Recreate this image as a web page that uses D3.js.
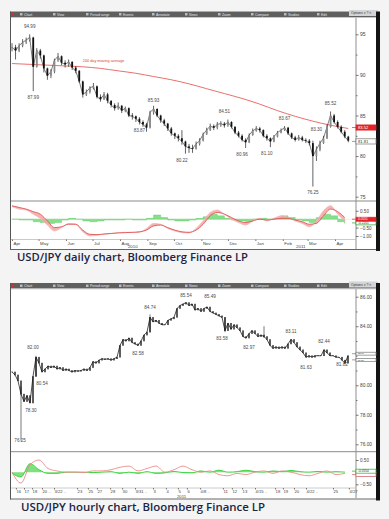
<!DOCTYPE html>
<html>
<head>
<meta charset="utf-8">
<script src="https://cdn.jsdelivr.net/npm/d3@7"></script>
<style>
body { margin: 0; background: #f4f4f4; }
svg { display: block; }
</style>
</head>
<body>
<script>
// ---- daily chart data (one bar every 4 calendar days from 1 Apr 2010) ----
const dailyStart = new Date(2010, 3, 1);
const dailyStepDays = 4;
const dailyClose = [
  93.4, 93.0, 93.6, 94.0, 94.3, 94.6, 91.0, 93.0, 92.4, 90.8,
  89.9, 90.4, 91.8, 92.3, 91.5, 91.3, 91.6, 90.9, 90.5, 89.2,
  87.6, 87.9, 88.4, 88.6, 87.3, 87.0, 87.6, 86.8, 86.3, 85.9,
  86.2, 85.6, 85.9, 85.0, 84.9, 84.6, 84.2, 83.9, 83.5, 85.4,
  85.8, 85.0, 84.4, 84.0, 83.4, 82.8, 82.5, 82.2, 81.8, 81.2,
  81.0, 80.9, 81.5, 81.9, 82.7, 83.2, 83.7, 83.5, 83.9, 84.0,
  83.8, 84.2, 83.6, 82.9, 82.5, 82.0, 81.7, 82.6, 83.1, 83.4,
  83.2, 82.5, 82.2, 81.8, 82.4, 82.9, 83.2, 83.5, 82.8, 82.3,
  82.0, 82.3, 82.0, 81.9, 81.6, 80.0, 80.8, 81.6, 82.2, 83.6,
  85.0, 84.2, 83.6, 83.0, 82.4, 81.9
];
const dailyHigh = [
  93.9, 93.7, 93.9, 94.4, 94.6, 95.0, 94.7, 93.3, 93.2, 92.5,
  90.9, 90.7, 92.0, 92.7, 92.4, 91.8, 91.9, 91.7, 91.1, 90.6,
  89.3, 88.2, 88.6, 89.0, 88.7, 87.6, 87.9, 87.8, 86.9, 86.5,
  86.6, 86.3, 86.1, 86.0, 85.3, 85.0, 84.8, 84.4, 84.1, 85.6,
  86.2, 85.9, 85.1, 84.6, 84.1, 83.6, 82.9, 82.7, 83.2, 81.9,
  81.5, 81.4, 81.8, 82.2, 82.9, 83.5, 84.0, 83.9, 84.2, 84.3,
  84.2, 84.5, 84.3, 83.7, 83.1, 82.7, 82.2, 82.8, 83.4, 83.7,
  83.6, 83.3, 82.7, 82.3, 82.6, 83.1, 83.4, 83.7, 83.6, 82.9,
  82.5, 82.6, 82.5, 82.2, 82.1, 81.9, 81.2, 81.9, 82.5, 83.9,
  85.5, 85.2, 84.4, 83.8, 83.2, 82.5
];
const dailyLow = [
  92.9, 91.9, 92.8, 93.4, 93.8, 94.1, 88.0, 90.9, 92.0, 90.3,
  89.4, 89.6, 90.2, 91.6, 91.2, 90.9, 91.0, 90.6, 90.2, 89.0,
  87.2, 87.4, 87.7, 88.2, 87.1, 86.7, 86.9, 86.5, 86.0, 85.6,
  85.7, 85.3, 85.4, 84.8, 84.5, 84.2, 83.9, 83.6, 83.0, 83.4,
  85.1, 84.8, 84.1, 83.7, 83.1, 82.5, 82.1, 81.8, 81.4, 80.3,
  80.4, 80.4, 80.8, 81.3, 81.8, 82.6, 83.1, 83.2, 83.3, 83.6,
  83.5, 83.6, 83.4, 82.7, 82.3, 81.8, 81.0, 81.6, 82.5, 83.0,
  82.9, 82.3, 81.9, 81.1, 81.7, 82.3, 82.8, 83.1, 82.6, 82.1,
  81.8, 81.9, 81.8, 81.6, 81.3, 76.25, 79.4, 80.6, 81.5, 82.1,
  83.5, 84.0, 83.4, 82.8, 82.2, 81.7
];
// 200 day moving average, one value every 20 days
const maStepDays = 20;
const dailyMA = [91.4, 91.3, 91.2, 91.1, 91.0, 90.8, 90.5, 90.2, 89.8, 89.4,
                 88.9, 88.3, 87.7, 87.1, 86.4, 85.6, 84.9, 84.3, 83.8, 83.4];
// lower study, one value every 8 days
const indStepDays = 8;
const dailySignal = [0.8, 0.7, 0.6, 0.45, 0.3, -0.1, -0.5, -0.45, -0.3, -0.3,
  -0.65, -0.9, -0.92, -0.88, -0.85, -0.82, -0.8, -0.78, -0.75, -0.65,
  -0.4, -0.35, -0.5, -0.65, -0.75, -0.78, -0.65, -0.3, 0.2, 0.4,
  0.3, 0.1, -0.1, -0.2, -0.1, 0.0, -0.05, 0.0, 0.05, 0.05,
  -0.05, -0.15, -0.3, -0.25, 0.2, 0.6, 0.45, 0.1];
const dailyMacd = [0.75, 0.6, 0.55, 0.3, 0.05, -0.35, -0.7, -0.5, -0.25, -0.3,
  -0.75, -1.0, -0.95, -0.9, -0.85, -0.8, -0.78, -0.8, -0.78, -0.55,
  -0.25, -0.3, -0.55, -0.7, -0.8, -0.82, -0.55, -0.1, 0.4, 0.55,
  0.3, 0.0, -0.2, -0.35, -0.1, 0.05, -0.1, 0.05, 0.2, 0.1,
  -0.1, -0.25, -0.45, -0.1, 0.5, 0.8, 0.3, -0.1];
const dailyHist = [0.0, -0.05, -0.05, -0.15, -0.2, -0.25, -0.2, -0.05, 0.05, 0.0,
  -0.1, -0.15, -0.1, -0.05, -0.05, -0.05, 0.0, -0.05, -0.05, 0.05,
  0.25, 0.1, -0.05, -0.1, -0.1, -0.05, 0.05, 0.15, 0.3, 0.2,
  0.05, -0.05, -0.1, -0.15, 0.0, 0.05, 0.0, 0.05, 0.2, 0.1,
  -0.05, -0.1, -0.2, 0.1, 0.3, 0.2, -0.15, -0.25];
const dailyYTicks = [75, 80, 85, 90, 95];
const dailyYMinor = [77.5, 82.5, 87.5, 92.5];
const dailyIndTicks = [0.5, -0.5, -1];
const yearLabels = ["2010", "2011"];
const yearDates = [new Date(2010, 7, 10), new Date(2011, 1, 16)];
const dailyNotes = ["94.99", "87.99", "85.93", "83.87", "80.22", "84.51", "80.96", "81.10", "83.67", "83.30", "85.52", "76.25"];
const dailyNoteIdx = [5, 6, 40, 36, 48, 60, 65, 72, 77, 86, 90, 85];
const dailyNoteSide = ["above", "below", "above", "below", "below", "above", "below", "below", "above", "at", "above", "below"];

// ---- hourly chart data (sessions from 16 Mar 2011 to 27 Apr 2011) ----
const hourlyClose = [
  80.9, 80.7, 80.3, 79.4, 78.9, 79.3, 78.8, 80.6, 81.9, 81.5,
  80.9, 81.1, 81.3, 81.2, 81.3, 81.1, 81.2, 81.0, 81.1, 81.0,
  80.9, 81.0, 80.95, 81.0, 81.1, 81.0, 81.2, 81.6, 81.5, 81.7,
  81.8, 81.75, 81.8, 81.7, 81.8, 81.9, 82.7, 83.1, 83.0, 83.2,
  82.9, 82.8, 82.7, 83.0, 83.4, 83.6, 84.6, 84.3, 84.4, 84.2,
  84.1, 84.1, 84.4, 84.5, 84.6, 85.2, 85.4, 85.5, 85.6, 85.4,
  85.5, 85.1, 85.2, 85.0, 85.2, 85.3, 85.0, 84.9, 84.8, 84.7,
  84.6, 83.7, 84.2, 83.8, 84.1, 83.9, 83.7, 83.3, 83.2, 83.5,
  83.7, 83.5, 83.3, 83.4, 83.3, 83.1, 82.7, 82.5, 82.6, 82.5,
  82.6, 82.5, 82.8, 83.1, 82.9, 82.6, 82.4, 82.2, 81.9, 82.0,
  81.9, 82.0, 82.0, 82.0, 82.4, 82.2, 82.0, 82.0, 81.9, 81.9,
  81.7, 81.5, 82.0
];
const wickIdx = [3, 8, 46, 71, 84, 111];
const wickLow = [76.25, 80.6, 83.6, 83.6, 83.2, 81.45];
const wickHigh = [79.9, 82.0, 84.8, 84.6, 84.0, 81.7];
const hourlyIndStep = 3;
const hourlySignal = [0.0, -0.45, 0.3, 0.5, 0.15, 0.05, 0.0, 0.0, -0.02, 0.05,
  0.05, 0.1, 0.2, 0.25, 0.05, 0.15, 0.25, 0.0, 0.1, 0.25,
  0.1, 0.0, 0.05, -0.1, -0.15, -0.05, -0.1, 0.0, 0.05, -0.05,
  0.05, 0.0, -0.1, -0.15, -0.05, 0.05, -0.1, -0.05];
const hourlyGreen = [-0.05, -0.2, 0.35, 0.1, -0.05, -0.05, 0.0, 0.0, 0.0, -0.02,
  0.0, 0.02, -0.05, 0.0, -0.05, 0.02, -0.05, -0.03, 0.03, -0.02,
  -0.03, 0.05, 0.0, 0.08, 0.0, 0.02, 0.08, 0.02, 0.0, 0.05,
  0.02, 0.07, 0.02, 0.0, 0.03, 0.0, 0.02, 0.0];
const hourlyYTicks = [76, 78, 80, 84, 86];
const hourlyYMinor = [77, 79, 81, 82, 83, 85];
const hourlyIndTicks = [0.5, -0.5];
const hourlyTickLabels = ["16", "17", "18", "20 ..", "3/22 ..", "23", "25", "27", "28", "30", "3/31 ..", "3", "4", "5", "6",
  "4/8 ..", "11", "12", "13", "4/15 ..", "18", "19", "20", "4/22 ..", "25", "4/27"];
const hourlyTickIdx = [1.3, 4, 6.7, 10, 14, 21.7, 25.3, 28.3, 32.7, 36.7, 41, 47, 51.3, 55.3, 58.3,
  62.7, 70.3, 73.3, 76.7, 81, 87.7, 90.3, 94, 98, 107, 112.3];
const hourlyNotes = ["76.25", "78.30", "82.00", "80.54", "82.58", "84.74", "85.54", "85.49", "83.58", "82.97", "83.11", "81.63", "82.44", "81.82"];
const hourlyNoteIdx = [2.7, 6.3, 7, 10, 42, 46, 58, 66, 70, 79, 93, 98, 104, 110];
const hourlyNoteSide = ["at", "at", "above", "below", "below", "above", "above", "above", "below", "below", "above", "below", "above", "below"];

const toolbarItems = ["Chart", "View", "Period range", "Events", "Annotate", "News", "Zoom", "Compare", "Studies", "Edit"];

// ---- page ----
const W = 389, H = 519;
const svg = d3.select("body").append("svg").attr("width", W).attr("height", H);
svg.append("rect").attr("width", W).attr("height", H).attr("fill", "#f4f4f4");
const defs = svg.append("defs");

const tinyFont = "Liberation Sans, Arial, sans-serif";
const plotLeft = 11, axisX = 356;

function drawFrame(top, bottom, sep1, sep2) {
  const g = svg.append("g");
  g.append("rect").attr("x", 10).attr("y", top).attr("width", 367).attr("height", bottom - top).attr("fill", "#fff");
  g.append("rect").attr("x", 10).attr("y", top).attr("width", 367).attr("height", 5.5).attr("fill", "#5f5f5f");
  g.append("rect").attr("x", 10).attr("y", top + 5.5).attr("width", 367).attr("height", 0.8).attr("fill", "#bcbcbc");
  toolbarItems.forEach((t, i) => {
    const x = 24 + i * 33;
    g.append("rect").attr("x", x - 4).attr("y", top + 1.5).attr("width", 2.5).attr("height", 2.5).attr("fill", "#bbb");
    g.append("text").attr("x", x).attr("y", top + 4).attr("font-size", 3.4).attr("font-family", tinyFont)
      .attr("fill", "#e6e6e6").text(t);
  });
  g.append("rect").attr("x", 11).attr("y", top + 1).attr("width", 3).attr("height", 3).attr("fill", "#c33");
  g.append("rect").attr("x", 349).attr("y", top - 1.5).attr("width", 29).attr("height", 6).attr("fill", "#d4d4d4");
  g.append("text").attr("x", 351).attr("y", top + 2.5).attr("font-size", 3.4).attr("font-family", tinyFont)
    .attr("fill", "#333").text("Options \u25BE  ?  \u2715");
  // borders
  g.append("line").attr("x1", 10.5).attr("x2", 10.5).attr("y1", top).attr("y2", bottom).attr("stroke", "#555");
  g.append("line").attr("x1", 10).attr("x2", 377).attr("y1", bottom - 0.5).attr("y2", bottom - 0.5).attr("stroke", "#666");
  g.append("rect").attr("x", 376).attr("y", top).attr("width", 4).attr("height", bottom - top + 1).attr("fill", "#141414");
  // right axis rail and panel separators
  g.append("line").attr("x1", axisX).attr("x2", axisX).attr("y1", top + 6).attr("y2", bottom - 1)
    .attr("stroke", "#b5b5b5").attr("stroke-width", 1.5);
  [sep1, sep2].forEach((y, i) => {
    g.append("line").attr("x1", plotLeft).attr("x2", i === 0 ? 376 : axisX).attr("y1", y).attr("y2", y)
      .attr("stroke", i === 0 ? "#8a8a8a" : "#bdbdbd").attr("stroke-width", i === 0 ? 1 : 0.8);
  });
  return g;
}

function styleAxis(g, size) {
  g.select(".domain").remove();
  g.selectAll("line").attr("stroke", "#555").attr("stroke-width", 0.8);
  g.selectAll("text").attr("font-size", size).attr("font-family", tinyFont).attr("fill", "#444");
}

function valueBox(y, text, fill, stroke, color, h) {
  h = h || 5.2;
  svg.append("line").attr("x1", axisX - 4).attr("x2", axisX).attr("y1", y).attr("y2", y).attr("stroke", stroke).attr("stroke-width", 0.7);
  svg.append("rect").attr("x", axisX).attr("y", y - h / 2).attr("width", 20).attr("height", h)
    .attr("fill", fill).attr("stroke", stroke).attr("stroke-width", 0.7);
  if (text) {
    svg.append("text").attr("x", axisX + 2).attr("y", y).attr("dy", "0.35em").attr("font-size", h * 0.8)
      .attr("font-family", tinyFont).attr("fill", color).text(text);
  }
}

function notes(labels, xs, ys, sides) {
  labels.forEach((t, i) => {
    const off = { above: -8, below: 6, at: 0 }[sides[i]];
    svg.append("text").attr("x", xs[i]).attr("y", ys[i] + off).attr("dy", "0.35em")
      .attr("text-anchor", "middle").attr("font-size", 4.6).attr("font-family", tinyFont)
      .attr("fill", "#4a4a4a").text(t);
  });
}

// ================= DAILY =================
const dTop = 11.5, dBottom = 250, dSep = 201, dSep2 = 239.5;
drawFrame(dTop, dBottom, dSep, dSep2);

const dx = d3.scaleTime().domain([new Date(2010, 3, 1), new Date(2011, 3, 1)]).range([12, 335]);
const dy = d3.scaleLinear().domain([75, 95]).range([196.7, 34.3]);
const diy = d3.scaleLinear().domain([-1, 0.5]).range([236, 210.8]);
const dDate = i => d3.timeDay.offset(dailyStart, i * dailyStepDays);

defs.append("clipPath").attr("id", "dclip").append("rect")
  .attr("x", plotLeft).attr("y", 18).attr("width", axisX - plotLeft - 1).attr("height", dSep - 18);

// 200 day MA
const maLine = d3.line().x((d, i) => dx(d3.timeDay.offset(dailyStart, i * maStepDays))).y(d => dy(d)).curve(d3.curveMonotoneX);
svg.append("path").attr("d", maLine(dailyMA)).attr("fill", "none").attr("stroke", "#e8605a").attr("stroke-width", 0.9);
svg.append("text").attr("x", dx(d3.timeDay.offset(dailyStart, 4 * maStepDays))).attr("y", dy(dailyMA[4]) - 5)
  .attr("font-size", 3.8).attr("font-family", tinyFont).attr("fill", "#e0403a").text("200 day moving average");

// candles
const dg = svg.append("g").attr("clip-path", "url(#dclip)");
dg.append("path").datum(dailyClose)
  .attr("d", d3.line().x((d, i) => dx(dDate(i))).y(d => dy(d)))
  .attr("fill", "none").attr("stroke", "#444").attr("stroke-width", 0.7);
dailyClose.forEach((c, i) => {
  const o = i === 0 ? c : dailyClose[i - 1];
  const x = dx(dDate(i));
  dg.append("line").attr("x1", x).attr("x2", x).attr("y1", dy(dailyHigh[i])).attr("y2", dy(dailyLow[i]))
    .attr("stroke", "#3a3a3a").attr("stroke-width", 0.8);
  const y0 = dy(Math.max(o, c)), y1 = dy(Math.min(o, c));
  dg.append("rect").attr("x", x - 0.9).attr("y", y0).attr("width", 1.8).attr("height", Math.max(0.8, y1 - y0))
    .attr("fill", c < o ? "#111" : "#8c8c8c");
});

// price axis
svg.append("g").attr("transform", `translate(${axisX},0)`)
  .call(d3.axisRight(dy).tickValues(dailyYTicks).tickSize(2.5).tickPadding(1.5).tickFormat(d3.format("d")))
  .call(g => styleAxis(g, 5));
svg.append("g").attr("transform", `translate(${axisX},0)`)
  .call(d3.axisRight(dy).tickValues(dailyYMinor).tickSize(1.5).tickFormat(""))
  .call(g => styleAxis(g, 5));

// annotations
notes(dailyNotes, dailyNoteIdx.map(i => dx(dDate(i))), dailyNotes.map(t => dy(+t)), dailyNoteSide);

valueBox(dy(83.52), "83.52", "#e3232b", "#e3232b", "#fff");
valueBox(dy(81.81), "81.81", "#fff", "#777", "#333");

// lower study
const dInd = i => dx(d3.timeDay.offset(dailyStart, i * indStepDays));
svg.append("line").attr("x1", plotLeft).attr("x2", axisX).attr("y1", diy(0)).attr("y2", diy(0)).attr("stroke", "#e4e4e4").attr("stroke-width", 0.6);
svg.append("path").datum(dailyHist)
  .attr("d", d3.area().x((d, i) => dInd(i)).y0(diy(0)).y1(d => diy(d)).curve(d3.curveStepAfter))
  .attr("fill", "#86e08a").attr("stroke", "#5cc860").attr("stroke-width", 0.4);
svg.append("path").datum(dailySignal)
  .attr("d", d3.area().x((d, i) => dInd(i)).y0(d => diy(d)).y1((d, i) => diy(dailyMacd[i])).curve(d3.curveMonotoneX))
  .attr("fill", "#f5a3a3").attr("opacity", 0.85);
svg.append("path").datum(dailyMacd)
  .attr("d", d3.line().x((d, i) => dInd(i)).y(d => diy(d)).curve(d3.curveMonotoneX))
  .attr("fill", "none").attr("stroke", "#f0b8b8").attr("stroke-width", 0.8);
svg.append("path").datum(dailySignal)
  .attr("d", d3.line().x((d, i) => dInd(i)).y(d => diy(d)).curve(d3.curveMonotoneX))
  .attr("fill", "none").attr("stroke", "#e05656").attr("stroke-width", 0.9);

svg.append("g").attr("transform", `translate(${axisX},0)`)
  .call(d3.axisRight(diy).tickValues(dailyIndTicks).tickSize(2.5).tickPadding(1.5).tickFormat(d3.format(".2f")))
  .call(g => styleAxis(g, 4.6));
valueBox(diy(-0.22), "-0.2201", "#fff", "#2ca02c", "#333", 4);
valueBox(diy(0.0), "0.0551", "#e3232b", "#e3232b", "#fff", 4);

// month axis
const dMonths = d3.timeMonth.range(new Date(2010, 3, 1), new Date(2011, 4, 1));
svg.append("g").attr("transform", `translate(0,${dSep2})`)
  .call(d3.axisBottom(dx).tickValues(dMonths).tickSize(1.5).tickPadding(0.5).tickFormat(d3.timeFormat("%b")))
  .call(g => {
    styleAxis(g, 4.4);
    g.selectAll("text").attr("text-anchor", "start").attr("dx", 1);
  });
yearLabels.forEach((t, i) => {
  svg.append("text").attr("x", dx(yearDates[i])).attr("y", 248).attr("font-size", 4.4).attr("font-family", tinyFont)
    .attr("fill", "#444").text(t);
});

// ================= HOURLY =================
const hTop = 283, hBottom = 499.5, hSep = 451.7, hSep2 = 488;
drawFrame(hTop, hBottom, hSep, hSep2);

const hx = d3.scaleLinear().domain([0, hourlyClose.length - 1]).range([12, 348]);
const hy = d3.scaleLinear().domain([76, 86]).range([444.3, 296.7]);
const hiy = d3.scaleLinear().domain([-0.5, 0.5]).range([484.3, 460]);

defs.append("clipPath").attr("id", "hclip").append("rect")
  .attr("x", plotLeft).attr("y", 290).attr("width", axisX - plotLeft - 1).attr("height", hSep - 290);
const hg = svg.append("g").attr("clip-path", "url(#hclip)");

wickIdx.forEach((idx, i) => {
  hg.append("line").attr("x1", hx(idx)).attr("x2", hx(idx)).attr("y1", hy(wickHigh[i])).attr("y2", hy(wickLow[i]))
    .attr("stroke", "#555").attr("stroke-width", 0.8);
});
hg.append("path").datum(hourlyClose)
  .attr("d", d3.line().x((d, i) => hx(i)).y(d => hy(d)))
  .attr("fill", "none").attr("stroke", "#222").attr("stroke-width", 0.8);
hourlyClose.forEach((c, i) => {
  const o = i === 0 ? c : hourlyClose[i - 1];
  const y0 = hy(Math.max(o, c)), y1 = hy(Math.min(o, c));
  hg.append("rect").attr("x", hx(i) - 0.7).attr("y", y0 - 0.3).attr("width", 1.4).attr("height", y1 - y0 + 0.6)
    .attr("fill", "#1a1a1a");
});

svg.append("g").attr("transform", `translate(${axisX},0)`)
  .call(d3.axisRight(hy).tickValues(hourlyYTicks).tickSize(2.5).tickPadding(1.5).tickFormat(d3.format(".2f")))
  .call(g => styleAxis(g, 4.8));
svg.append("g").attr("transform", `translate(${axisX},0)`)
  .call(d3.axisRight(hy).tickValues(hourlyYMinor).tickSize(1.5).tickFormat(""))
  .call(g => styleAxis(g, 4.8));

notes(hourlyNotes, hourlyNoteIdx.map(i => hx(i)), hourlyNotes.map(t => hy(+t)), hourlyNoteSide);

valueBox(hy(82.14), "82.01", "#fff", "#777", "#333", 2.9);
valueBox(hy(81.72), "81.80", "#fff", "#777", "#333", 2.9);

// lower study
const hInd = j => hx(j * hourlyIndStep);
svg.append("path").datum(hourlyGreen)
  .attr("d", d3.area().x((d, j) => hInd(j)).y0(hiy(0)).y1(d => hiy(d)).curve(d3.curveMonotoneX))
  .attr("fill", "#7fe07f");
svg.append("path").datum(hourlyGreen)
  .attr("d", d3.line().x((d, j) => hInd(j)).y(d => hiy(d)).curve(d3.curveMonotoneX))
  .attr("fill", "none").attr("stroke", "#2fcf2f").attr("stroke-width", 0.9);
svg.append("path").datum(hourlySignal)
  .attr("d", d3.line().x((d, j) => hInd(j)).y(d => hiy(d)).curve(d3.curveMonotoneX))
  .attr("fill", "none").attr("stroke", "#ec8a8a").attr("stroke-width", 0.9);

svg.append("g").attr("transform", `translate(${axisX},0)`)
  .call(d3.axisRight(hiy).tickValues(hourlyIndTicks).tickSize(2.5).tickPadding(1.5).tickFormat(d3.format(".2f")))
  .call(g => styleAxis(g, 4.6));
valueBox(hiy(-0.1), "", "#fff", "#d05a5a", "#333", 4);
valueBox(hiy(0.04), "-0.0554", "#fff", "#22b022", "#333", 4);

// session axis
svg.append("g").attr("transform", `translate(0,${hSep2})`)
  .call(d3.axisBottom(hx).tickValues(hourlyTickIdx).tickSize(1.5).tickPadding(1).tickFormat((d, i) => hourlyTickLabels[i]))
  .call(g => {
    styleAxis(g, 4.2);
    g.selectAll("text").attr("text-anchor", "start");
  });
svg.append("text").attr("x", hx(55)).attr("y", 498).attr("font-size", 4.2).attr("font-family", tinyFont)
  .attr("fill", "#444").text("2011");

// ================= captions =================
const captions = ["USD/JPY daily chart, Bloomberg Finance LP", "USD/JPY hourly chart, Bloomberg Finance LP"];
const capX = [17, 21], capY = [261, 511], capW = [231, 244];
captions.forEach((t, i) => {
  svg.append("text").attr("x", capX[i]).attr("y", capY[i]).attr("font-size", 11.5)
    .attr("font-family", "Open Sans, sans-serif").attr("font-weight", 600).attr("fill", "#1c2444")
    .attr("textLength", capW[i]).attr("lengthAdjust", "spacingAndGlyphs").text(t);
});
</script>
</body>
</html>
